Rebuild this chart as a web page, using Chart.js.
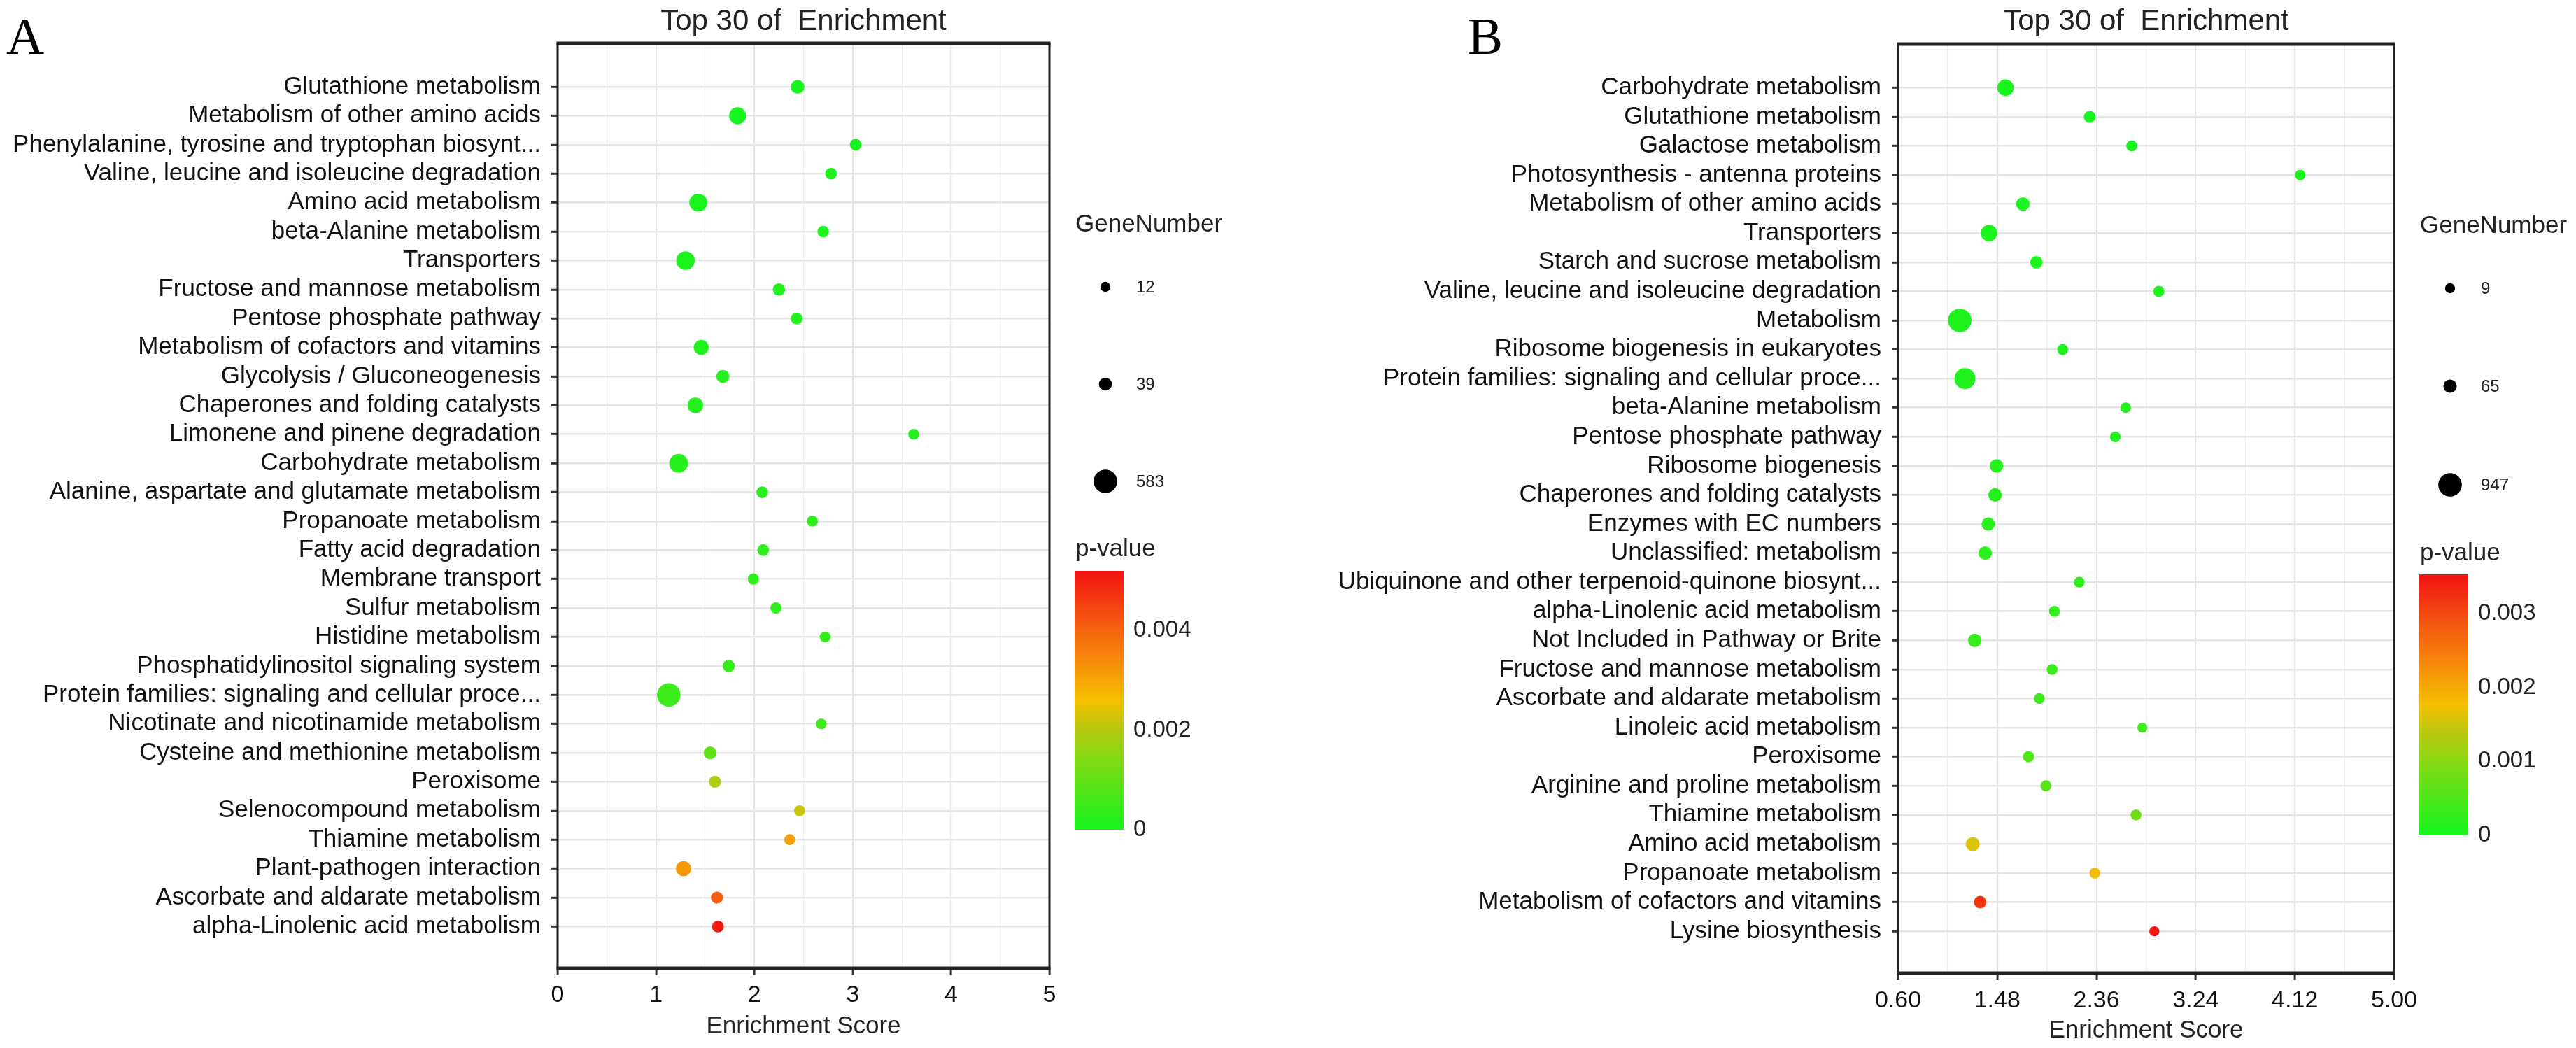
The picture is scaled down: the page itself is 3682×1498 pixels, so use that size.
<!DOCTYPE html>
<html>
<head>
<meta charset="utf-8">
<title>Top 30 of Enrichment</title>
<script src="https://cdn.jsdelivr.net/npm/chart.js@4.4.1/dist/chart.umd.min.js"></script>
<style>
    html, body { margin: 0; padding: 0; background: #fff; }
    #wrap { position: relative; width: 3682px; height: 1498px; overflow: hidden; }
    canvas { position: absolute; top: 0; }
</style>
</head>
<body>
<div id="wrap">
    <canvas id="chartA" width="1860" height="1498" style="left:0px"></canvas>
    <canvas id="chartB" width="1822" height="1498" style="left:1860px"></canvas>
</div>
<script>
// ---- panel A ----
const pathwaysA = [
    "Glutathione metabolism",
    "Metabolism of other amino acids",
    "Phenylalanine, tyrosine and tryptophan biosynt...",
    "Valine, leucine and isoleucine degradation",
    "Amino acid metabolism",
    "beta-Alanine metabolism",
    "Transporters",
    "Fructose and mannose metabolism",
    "Pentose phosphate pathway",
    "Metabolism of cofactors and vitamins",
    "Glycolysis / Gluconeogenesis",
    "Chaperones and folding catalysts",
    "Limonene and pinene degradation",
    "Carbohydrate metabolism",
    "Alanine, aspartate and glutamate metabolism",
    "Propanoate metabolism",
    "Fatty acid degradation",
    "Membrane transport",
    "Sulfur metabolism",
    "Histidine metabolism",
    "Phosphatidylinositol signaling system",
    "Protein families: signaling and cellular proce...",
    "Nicotinate and nicotinamide metabolism",
    "Cysteine and methionine metabolism",
    "Peroxisome",
    "Selenocompound metabolism",
    "Thiamine metabolism",
    "Plant-pathogen interaction",
    "Ascorbate and aldarate metabolism",
    "alpha-Linolenic acid metabolism"
];
const scoreA = [2.44, 1.83, 3.03, 2.78, 1.43, 2.70, 1.30, 2.25, 2.43, 1.46,
                1.68, 1.40, 3.62, 1.23, 2.08, 2.59, 2.09, 1.99, 2.22, 2.72,
                1.74, 1.13, 2.68, 1.55, 1.60, 2.46, 2.36, 1.28, 1.62, 1.63];
const genesA = [54, 166, 20, 20, 204, 19, 239, 28, 21, 90,
                40, 113, 14, 250, 20, 15, 20, 16, 16, 14,
                28, 583, 13, 35, 25, 15, 15, 94, 24, 22];
const pvalueA = [0.00002, 0.00001, 0.00005, 0.00008, 0.00005, 0.0001, 0.00008, 0.00012, 0.00013, 0.00014,
                 0.00016, 0.00018, 0.0002, 0.00022, 0.00025, 0.00028, 0.0003, 0.00032, 0.00035, 0.00038,
                 0.00045, 0.0005, 0.00055, 0.001, 0.0019, 0.0022, 0.0031, 0.0032, 0.0041, 0.0051];
const xTicksA = [0, 1, 2, 3, 4, 5];
const xTickLabelsA = ["0", "1", "2", "3", "4", "5"];
const sizeBreaksA = [12, 39, 583];
const pTicksA = [0, 0.002, 0.004];
const pTickLabelsA = ["0", "0.002", "0.004"];
const pMaxA = 0.0052;

// ---- panel B ----
const pathwaysB = [
    "Carbohydrate metabolism",
    "Glutathione metabolism",
    "Galactose metabolism",
    "Photosynthesis - antenna proteins",
    "Metabolism of other amino acids",
    "Transporters",
    "Starch and sucrose metabolism",
    "Valine, leucine and isoleucine degradation",
    "Metabolism",
    "Ribosome biogenesis in eukaryotes",
    "Protein families: signaling and cellular proce...",
    "beta-Alanine metabolism",
    "Pentose phosphate pathway",
    "Ribosome biogenesis",
    "Chaperones and folding catalysts",
    "Enzymes with EC numbers",
    "Unclassified: metabolism",
    "Ubiquinone and other terpenoid-quinone biosynt...",
    "alpha-Linolenic acid metabolism",
    "Not Included in Pathway or Brite",
    "Fructose and mannose metabolism",
    "Ascorbate and aldarate metabolism",
    "Linoleic acid metabolism",
    "Peroxisome",
    "Arginine and proline metabolism",
    "Thiamine metabolism",
    "Amino acid metabolism",
    "Propanoate metabolism",
    "Metabolism of cofactors and vitamins",
    "Lysine biosynthesis"
];
const scoreB = [1.553, 2.30, 2.673, 4.167, 1.707, 1.407, 1.827, 2.913, 1.147, 2.06,
                1.193, 2.62, 2.527, 1.473, 1.46, 1.40, 1.373, 2.207, 1.987, 1.28,
                1.967, 1.853, 2.767, 1.757, 1.912, 2.711, 1.262, 2.345, 1.328, 2.873];
const genesB = [219, 27, 14, 10, 69, 219, 39, 14, 947, 14,
                625, 10, 11, 69, 69, 66, 64, 11, 12, 70,
                12, 12, 9, 15, 14, 12, 85, 12, 40, 9];
const pvalueB = [0.00001, 0.00002, 0.00003, 0.00004, 0.00005, 0.00005, 0.00006, 0.00007, 0.00008, 0.0001,
                 0.0001, 0.00012, 0.00013, 0.00014, 0.00015, 0.00016, 0.00018, 0.0002, 0.00025, 0.0003,
                 0.00032, 0.00035, 0.0004, 0.0005, 0.0006, 0.0008, 0.0016, 0.0018, 0.0032, 0.0035];
const xTicksB = [0.60, 1.48, 2.36, 3.24, 4.12, 5.00];
const xTickLabelsB = ["0.60", "1.48", "2.36", "3.24", "4.12", "5.00"];
const sizeBreaksB = [9, 65, 947];
const pTicksB = [0, 0.001, 0.002, 0.003];
const pTickLabelsB = ["0", "0.001", "0.002", "0.003"];
const pMaxB = 0.00353;

// green -> gold -> red, like the colour bar
const gradientStops = [
    [0, [22, 245, 30]],
    [0.25, [120, 220, 20]],
    [0.4, [190, 200, 15]],
    [0.5, [245, 192, 0]],
    [0.65, [247, 140, 10]],
    [0.8, [244, 90, 16]],
    [1, [242, 18, 18]]
];
const SANS = '"Liberation Sans", Arial, sans-serif';

function pColor(p, pMax) {
    var t = Math.max(0, Math.min(1, p / pMax));
    for (var i = 1; i < gradientStops.length; i++) {
        var a = gradientStops[i - 1], b = gradientStops[i];
        if (t <= b[0]) {
            var f = (t - a[0]) / (b[0] - a[0]);
            var c = a[1].map(function (v, k) { return Math.round(v + (b[1][k] - v) * f); });
            return "rgb(" + c.join(",") + ")";
        }
    }
    return "rgb(242,18,18)";
}

function dotRadius(g, breaks) {
    var lo = breaks[0], hi = breaks[breaks.length - 1];
    var f = Math.sqrt(Math.max(0, (g - lo) / (hi - lo)));
    return 7.2 + 9.6 * f;
}

function isMajor(v, ticks) {
    return ticks.some(function (t) { return Math.abs(t - v) < 1e-6; });
}

const framePlugin = {
    id: "frameAndLegend",
    afterDraw: function (chart) {
        var o = chart.options.plugins.frameAndLegend;
        var ctx = chart.ctx;
        var a = chart.chartArea;
        ctx.save();

        // panel border
        ctx.strokeStyle = "#222";
        ctx.lineWidth = 3;
        ctx.beginPath();
        ctx.moveTo(a.left, a.top); ctx.lineTo(a.left, a.bottom);
        ctx.moveTo(a.right, a.top); ctx.lineTo(a.right, a.bottom);
        ctx.stroke();
        ctx.lineWidth = 5;
        ctx.beginPath();
        ctx.moveTo(a.left - 1.5, a.top); ctx.lineTo(a.right + 1.5, a.top);
        ctx.moveTo(a.left - 1.5, a.bottom); ctx.lineTo(a.right + 1.5, a.bottom);
        ctx.stroke();

        // panel letter and title
        ctx.fillStyle = "#000";
        ctx.textBaseline = "alphabetic";
        ctx.textAlign = "left";
        ctx.font = '75px "Liberation Serif", "Times New Roman", serif';
        ctx.fillText(o.letter, o.letterX, 77);
        ctx.fillStyle = "#222";
        ctx.textAlign = "center";
        ctx.font = "42px " + SANS;
        ctx.fillText("Top 30 of  Enrichment", (a.left + a.right) / 2, 43);

        // size legend
        var lx = a.right + 37;
        ctx.textAlign = "left";
        ctx.textBaseline = "middle";
        ctx.font = "35px " + SANS;
        ctx.fillText("GeneNumber", lx, o.sizeTitleY);
        ctx.font = "24px " + SANS;
        o.sizeBreaks.forEach(function (g, i) {
            var y = o.sizeY[i];
            ctx.fillStyle = "#000";
            ctx.beginPath();
            ctx.arc(a.right + 80, y, dotRadius(g, o.sizeBreaks), 0, Math.PI * 2);
            ctx.fill();
            ctx.fillStyle = "#222";
            ctx.fillText(String(g), a.right + 124, y + 1);
        });

        // colour bar
        ctx.font = "35px " + SANS;
        ctx.fillText("p-value", lx, o.pTitleY);
        var top = o.barTop, bottom = o.barBottom;
        var grad = ctx.createLinearGradient(0, bottom, 0, top);
        gradientStops.forEach(function (s) {
            grad.addColorStop(s[0], "rgb(" + s[1].join(",") + ")");
        });
        ctx.fillStyle = grad;
        ctx.fillRect(a.right + 36, top, 70, bottom - top);
        ctx.fillStyle = "#222";
        ctx.font = "33px " + SANS;
        o.pTicks.forEach(function (v, i) {
            var y = bottom - v / o.pMax * (bottom - top);
            ctx.fillText(o.pTickLabels[i], a.right + 120, y);
        });
        ctx.restore();
    }
};

function makeChart(id, cfg) {
    var canvas = document.getElementById(id);
    var minor = [];
    for (var i = 1; i < cfg.xTicks.length; i++) {
        minor.push((cfg.xTicks[i - 1] + cfg.xTicks[i]) / 2);
    }
    var allX = cfg.xTicks.concat(minor).sort(function (a, b) { return a - b; });
    var points = cfg.cats.map(function (c, i) {
        return { x: cfg.score[i], y: i };
    });

    return new Chart(canvas, {
        type: "scatter",
        data: {
            datasets: [{
                data: points,
                pointRadius: function (c) { return dotRadius(cfg.genes[c.dataIndex], cfg.sizeBreaks); },
                pointHoverRadius: function (c) { return dotRadius(cfg.genes[c.dataIndex], cfg.sizeBreaks); },
                pointBackgroundColor: function (c) { return pColor(cfg.pvals[c.dataIndex], cfg.pMax); },
                pointBorderWidth: 0,
                pointBorderColor: "rgba(0,0,0,0)"
            }]
        },
        options: {
            responsive: false,
            animation: false,
            devicePixelRatio: 1,
            events: [],
            layout: {
                padding: { left: 0, top: cfg.box.top, right: canvas.width - cfg.box.right, bottom: 0 }
            },
            scales: {
                x: {
                    type: "linear",
                    min: cfg.xTicks[0],
                    max: cfg.xTicks[cfg.xTicks.length - 1],
                    afterBuildTicks: function (scale) {
                        scale.ticks = allX.map(function (v) { return { value: v }; });
                    },
                    afterFit: function (scale) {
                        scale.height = canvas.height - cfg.box.bottom;
                    },
                    border: { display: false },
                    grid: {
                        color: function (c) { return isMajor(c.tick.value, cfg.xTicks) ? "#e6e6e6" : "#eeeeee"; },
                        lineWidth: function (c) { return isMajor(c.tick.value, cfg.xTicks) ? 2.2 : 1.2; },
                        tickColor: function (c) { return isMajor(c.tick.value, cfg.xTicks) ? "#333" : "rgba(0,0,0,0)"; },
                        tickWidth: 3,
                        tickLength: 10
                    },
                    ticks: {
                        autoSkip: false,
                        maxRotation: 0,
                        padding: cfg.xTickPad,
                        color: "#111",
                        font: { family: SANS, size: 34, lineHeight: 1.2 },
                        callback: function (v) {
                            var k = cfg.xTicks.findIndex(function (t) { return Math.abs(t - v) < 1e-6; });
                            return k >= 0 ? cfg.xTickLabels[k] : "";
                        }
                    },
                    title: {
                        display: true,
                        text: "Enrichment Score",
                        color: "#222",
                        font: { family: SANS, size: 35, lineHeight: 1.2 },
                        padding: { top: 0, bottom: cfg.xTitlePad }
                    }
                },
                y: {
                    type: "linear",
                    reverse: true,
                    min: -1.5,
                    max: cfg.cats.length - 1 + 1.44,
                    afterBuildTicks: function (scale) {
                        scale.ticks = cfg.cats.map(function (c, i) { return { value: i }; });
                    },
                    afterFit: function (scale) {
                        scale.width = cfg.box.left;
                    },
                    border: { display: false },
                    grid: {
                        color: "#e5e5e5",
                        lineWidth: 2.6,
                        tickColor: "#333",
                        tickWidth: 3,
                        tickLength: 9
                    },
                    ticks: {
                        autoSkip: false,
                        padding: 15,
                        color: "#111",
                        font: { family: SANS, size: 35, lineHeight: 1.0 },
                        callback: function (v, i) { return cfg.cats[i]; }
                    }
                }
            },
            plugins: {
                legend: { display: false },
                tooltip: { enabled: false },
                frameAndLegend: {
                    letter: cfg.letter,
                    letterX: cfg.letterX,
                    sizeBreaks: cfg.sizeBreaks,
                    sizeTitleY: cfg.sizeTitleY,
                    sizeY: cfg.sizeY,
                    pTitleY: cfg.pTitleY,
                    barTop: cfg.barTop,
                    barBottom: cfg.barBottom,
                    pTicks: cfg.pTicks,
                    pTickLabels: cfg.pTickLabels,
                    pMax: cfg.pMax
                }
            }
        },
        plugins: [framePlugin]
    });
}

makeChart("chartA", {
    cats: pathwaysA, score: scoreA, genes: genesA, pvals: pvalueA,
    xTicks: xTicksA, xTickLabels: xTickLabelsA,
    sizeBreaks: sizeBreaksA, pTicks: pTicksA, pTickLabels: pTickLabelsA, pMax: pMaxA,
    box: { left: 797, right: 1500, top: 62, bottom: 1384 },
    xTickPad: 8, xTitlePad: 10,
    letter: "A", letterX: 9,
    sizeTitleY: 321, sizeY: [410, 549, 688], pTitleY: 785, barTop: 816, barBottom: 1186
});

makeChart("chartB", {
    cats: pathwaysB, score: scoreB, genes: genesB, pvals: pvalueB,
    xTicks: xTicksB, xTickLabels: xTickLabelsB,
    sizeBreaks: sizeBreaksB, pTicks: pTicksB, pTickLabels: pTickLabelsB, pMax: pMaxB,
    box: { left: 853, right: 1562, top: 63, bottom: 1391 },
    xTickPad: 9, xTitlePad: 4,
    letter: "B", letterX: 238,
    sizeTitleY: 323, sizeY: [412, 552, 693], pTitleY: 791, barTop: 821, barBottom: 1194
});
</script>
</body>
</html>
